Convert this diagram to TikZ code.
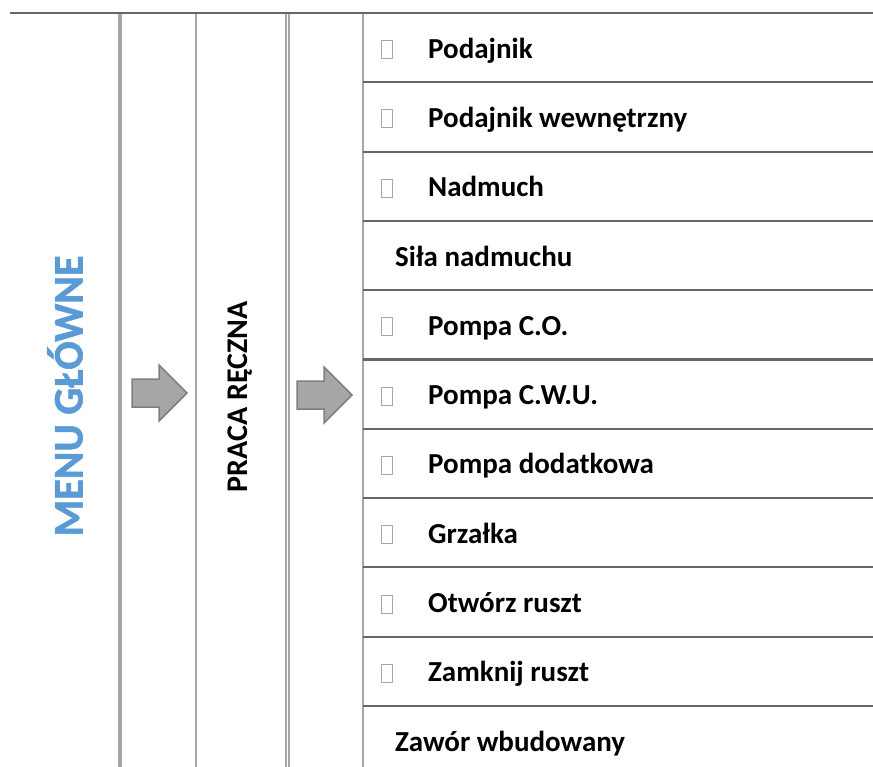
\documentclass[tikz,border=0pt]{standalone}
\usepackage{fontspec}
\setmainfont{Carlito}
\newfontfamily\heavyfont{Carlito}[BoldFeatures={FakeBold=1.4}]
\definecolor{rulegray}{HTML}{666666}
\definecolor{colgray}{HTML}{A6A6A6}
\definecolor{arrowfill}{HTML}{A6A6A6}
\definecolor{arrowline}{HTML}{7F7F7F}
\definecolor{menublue}{HTML}{5B9BD5}
\tikzset{
  hrule/.style={draw=rulegray, line width=2pt},
  vrule/.style={draw=colgray, line width=#1},
  item/.style={anchor=base west, inner sep=0pt, font=\fontsize{29}{33}\selectfont\bfseries},
  chkbox/.style={draw=colgray, line width=1pt},
  blockarrow/.style={fill=arrowfill, draw=arrowline, line width=1.5pt, line join=miter},
}
\begin{document}
\begin{tikzpicture}[x=1pt, y=-1pt, line cap=butt]
  \useasboundingbox (0,0) rectangle (873,767);
  \def\rowh{69.3}\def\ytop{13}
  % columns
  \draw[vrule=4pt] (120,\ytop) -- (120,767);
  \draw[vrule=1.5pt] (196,\ytop) -- (196,767);
  \draw[vrule=2pt] (285.7,\ytop) -- (285.7,767);
  \draw[vrule=2pt] (289,\ytop) -- (289,767);
  \draw[vrule=2pt] (363,\ytop) -- (363,767);
  \draw[hrule] (10,\ytop) -- (873,\ytop);
  % titles
  \node[rotate=90, text=menublue, font=\heavyfont\fontsize{42}{48}\selectfont\bfseries] (menu) at (65,396) {MENU GŁÓWNE};
  \node[rotate=90, font=\fontsize{30}{34}\selectfont\bfseries] (praca) at (240,397) {PRACA RĘCZNA};
  % arrows
  \foreach \ax/\ay in {132/393, 297/395}
    \draw[blockarrow] (\ax,\ay-14) -- ++(27,0) -- ++(0,-14) -- ++(28,28) -- ++(-28,28) -- ++(0,-14) -- ++(-27,0) -- cycle;
  % list
  \foreach \txt/\chk [count=\i from 0] in {Podajnik/1, Podajnik wewnętrzny/1, Nadmuch/1, Siła nadmuchu/0,
      Pompa C.O./1, Pompa C.W.U./1, Pompa dodatkowa/1, Grzałka/1, Otwórz ruszt/1, Zamknij ruszt/1, Zawór wbudowany/0}{
    \pgfmathsetmacro\yc{\ytop+\rowh*(\i+0.5)}
    \ifnum\i>0 \draw[hrule] (363,\ytop+\rowh*\i) -- (873,\ytop+\rowh*\i);\fi
    \ifnum\chk=1
      \draw[chkbox] (381,\yc-7) rectangle (392,\yc+11);
      \node[item] (row\i) at (428,\yc+10.5) {\txt};
    \else
      \node[item] (row\i) at (395,\yc+10.5) {\txt};
    \fi
  }
\end{tikzpicture}
\end{document}
